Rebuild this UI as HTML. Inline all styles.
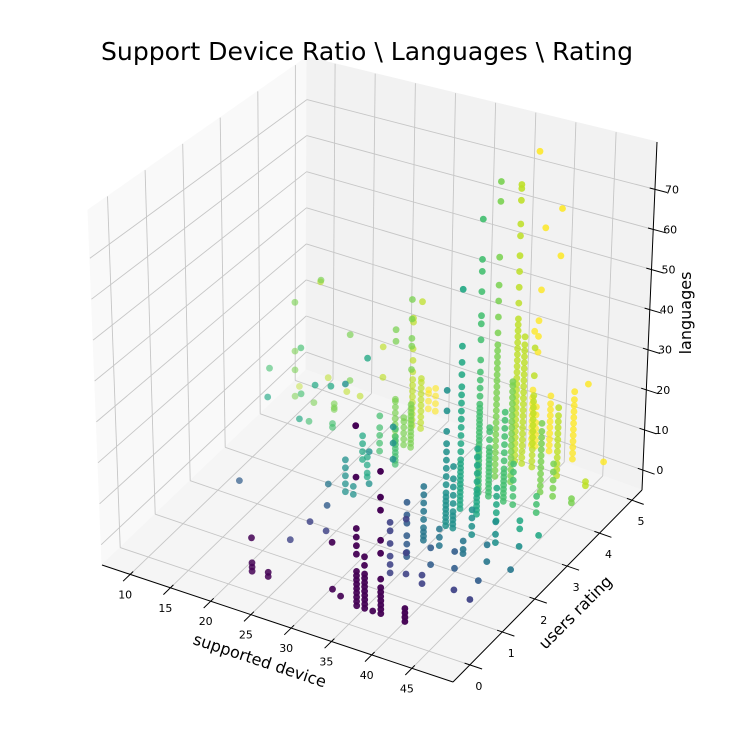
<!DOCTYPE html>
<html><head><meta charset="utf-8"><title>Support Device Ratio \ Languages \ Rating</title>
<style>
html,body{margin:0;padding:0;background:#fff;}
svg{display:block;font-family:"DejaVu Sans","Liberation Sans",sans-serif;}
</style></head>
<body>
<svg id="chart" width="734" height="734" viewBox="0 0 734 734" xmlns="http://www.w3.org/2000/svg">
<rect x="0" y="0" width="734" height="734" fill="#ffffff"/>
<g id="panes"></g>
<g id="grid"></g>
<g id="axes"></g>
<g id="points"></g>
<text x="367" y="60" text-anchor="middle" font-size="25" textLength="532" lengthAdjust="spacingAndGlyphs" fill="#000">Support Device Ratio \ Languages \ Rating</text>
<text x="260" y="666" text-anchor="middle" font-size="16" fill="#000" transform="rotate(18.4 260 660)">supported device</text>
<text x="575" y="618" text-anchor="middle" font-size="16" fill="#000" transform="rotate(-45 575 612)">users rating</text>
<text x="685" y="319" text-anchor="middle" font-size="16" fill="#000" transform="rotate(-90 685 313)">languages</text>
</svg>
<script>
// ---- data: columns of apps sharing (supported devices, rating) with their language counts ----
const colDevices = [
 23,25,36,37,39,42,33,34,38,
 36,38,40,44,46,23.5,26,28,
 36,39,42,26,15,45,
 36,38,41,24,44,47,
 36.7,37.6,40,43,30,27,46,24,25,
 36.4,38.5,41,44,46.4,24.6,12,20,16,18,24,
 36.6,37.9,39.8,41,44,26,14,10,24,18,15,
 36.6,38.6,42.4,44,46.4,25.8,23.8,24.9,14.3,11,18,13.4,16,11,
 37,37.9,39.2,42.4,46.1,23.8,24.9,20,12,9.3,13,15.4,17.1,
 37,37.5,39.3,42.3,46.3,23.7,24.6,40,44,38,37.7
];
const colRatings = [
 0,0,0,0,0,0,0,0,0,
 1,1,1,1,1,1,1,1,
 1.5,1.5,1.5,1.5,1.5,1.5,
 2,2,2,2,2,2,
 2.5,2.5,2.5,2.5,2.5,2.5,2.5,2.5,2.5,
 3,3,3,3,3,3,3,3,3,3,3,
 3.5,3.5,3.5,3.5,3.5,3.5,3.5,3.5,3.5,3.5,3.5,
 4,4,4,4,4,4,4,4,4,4,4,4,4,4,
 4.5,4.5,4.5,4.5,4.5,4.5,4.5,4.5,4.5,4.5,4.5,4.5,4.5,
 5,5,5,5,5,5,5,5,5,5,5
];
const colLanguages = [
 [0,1,2,8],[0,1],
 [0,1,2,3,4,5,6,7,8,12,14,16,18,30,42],
 [0,1,2,3,4,5,6,7,8,10,12],
 [0,1,2,3,4,5,6,8,14,17,24,27,33],
 [0,1,2,3],[2,13],[1],[0],
 [0,2,4,7,10,12],[1,6,14],[0,2],[1],[0],[0],[6],[5],
 [0,1,3,5,8,10,13],[0,4],[1,5],[6],[5],[0],
 [0,1,2,3,5,7,9,11,13],[0,2,4],[0,1,3],[6],[0,4],[0],
 [0,1,2,3,4,5,6,7,8,10,12,14,16,18,20,23,28,33],
 [0,1,2,3,4,6,8,10,12,15],[0,2,4,6],[0,2,5],[12,16,20],[4,12],[1],[0,2,4,6,8,27],[0,2],
 [0,1,2,3,4,5,6,7,8,9,10,11,12,14,16,18,20,22,24,26,28,30,33,36,40,54],
 [0,1,2,3,4,5,6,8,10,12,14,16],[0,2,4,6,8],[0,2],[0],[0,1,3,5,30],[12],[20],[9],[19],[4,6,8,10],
 [0,1,2,3,4,5,6,7,8,9,10,11,12,13,14,15,16,17,18,19,20,21,22,24,26,28,30,33,38,42,44,50,55,58,68],
 [0,1,2,3,4,5,6,7,8,9,10,11,12,14,16,17],
 [0,1,2,3,4,5,6,7,8,10,12,14,16,18,20,22],
 [0,2,4,6,8,10],[0,2,4],[0,1,2,3,4,5,6,7,9],[10,22],[14],[2,4,6,8,11],[4,5],[3.5],
 [0,1.5,3,4.5,6,7.5,9,10.5,12,13.5,15,16.5,18,19.5,21,22.5,24,25.5,27,28.5,30,31.5,33,36,40,44,48,55,69,74],
 [0,1.5,3,4.5,6,7.5,9,10.5,12,13.5,15,16.5,18,19.5,21,22.5,24,25],
 [0,1.5,3,4.5,6,7.5,9,10.5,12,13.5,15,17],
 [0,2,4,6,8],[0,1],
 [0,1,2,3,4,5,6,7,8,9,10,11,20,26,28,33,38],
 [0,1.5,3,4.5,6,7.5,9,10.5,11,26,29],
 [0,1.5,3,4.5,6,7],
 [36],[10,15,28],[12,24],[3],[3,3.5,4.5],[3],
 [0,1.5,3,4.5,6,7.5,9,10.5,12,13.5,15,16.5,18,19.5,21,22.5,24,25.5,27,28.5,30,31.5,33,34.5,36,40,44,48,52,57,60,66,69,70],
 [0,1.5,3,4.5,6,7.5,9,10.5,12,13.5,15,16.5,18,19.5,21,22.5,24,25.5,27,28.5,30,32],
 [0,1.5,3,4.5,6,7.5,9,10.5,12,13.5,15,16.5,18,23,30],
 [0,1.5,3,4.5,6,7.5,9,10.5,12,13.5,15,17],
 [0,1],
 [0,1.5,3,4.5,6,7.5,9,10.5,12,14,17,20,27,28],
 [0,1.5,3,4.5,6,7.5,9,10.5,12,13,33],
 [10,18],[30],[0],[5],[3],[3],
 [0,1.5,3,4.5,6,7.5,9,10.5,12,14,29,75],
 [0,1.5,3,4.5,6,8,10,24,28,32],
 [0,1.5,3,4.5,6,7.5,9,10.5,12,14],
 [0,1.5,3,4.5,6,7.5,9,10.5,12,13.5,15,17],
 [2],[0,2,4,5],[0,2,4,6],[50,62],[20],[56],[40]
];
// ---- axis tick labels ----
const xTicks = [10,15,20,25,30,35,40,45];
const yTicks = [0,1,2,3,4,5];
const zTicks = [0,10,20,30,40,50,60,70];

// ---- axes domains & projection ----
const xDom=[6.5,50.1], yDom=[-0.52,5.31], zDom=[-4.97,81.8];
const CB=[[102,565],[453,682],[642,490],[306,370]];
const CT=[[88,210],[455,297],[657,142],[307,57]];
function bil(c,u,v){return [c[0][0]*(1-u)*(1-v)+c[1][0]*u*(1-v)+c[2][0]*u*v+c[3][0]*(1-u)*v,
                           c[0][1]*(1-u)*(1-v)+c[1][1]*u*(1-v)+c[2][1]*u*v+c[3][1]*(1-u)*v];}
function proj(u,v,w){const b=bil(CB,u,v),t=bil(CT,u,v);return [b[0]+(t[0]-b[0])*w,b[1]+(t[1]-b[1])*w];}
function xs(d){return (d-xDom[0])/(xDom[1]-xDom[0]);}
function ys(r){return (r-yDom[0])/(yDom[1]-yDom[0]);}
function zs(l){return (l-zDom[0])/(zDom[1]-zDom[0]);}
const NS='http://www.w3.org/2000/svg';
function mk(tag,attrs,parent){const e=document.createElementNS(NS,tag);for(const k in attrs)e.setAttribute(k,attrs[k]);parent.appendChild(e);return e;}
function pts(list){return list.map(p=>{const q=proj(p[0],p[1],p[2]);return q[0].toFixed(1)+','+q[1].toFixed(1);}).join(' ');}

const panes=document.getElementById('panes');
let pn;
pn=mk('polygon',{points:pts([[0,0,0],[0,1,0],[0,1,1],[0,0,1]]),fill:'#f9f9f9',stroke:'#f9f9f9'},panes);


pn=mk('polygon',{points:pts([[0,1,0],[1,1,0],[1,1,1],[0,1,1]]),fill:'#f2f2f2',stroke:'#f2f2f2'},panes);


pn=mk('polygon',{points:pts([[0,0,0],[1,0,0],[1,1,0],[0,1,0]]),fill:'#f5f5f5',stroke:'#f5f5f5'},panes);



const grid=document.getElementById('grid');
function gline(a,b,name){const l=mk('polyline',{points:pts([a,b]),stroke:'#c6c6c6','stroke-width':0.9,fill:'none'},grid);
 
 }
xTicks.forEach(t=>{const u=xs(t);gline([u,0,0],[u,1,0],'x-gridline');gline([u,1,0],[u,1,1],'x-gridline');});
yTicks.forEach(t=>{const v=ys(t);gline([0,v,0],[1,v,0],'y-gridline');gline([0,v,0],[0,v,1],'y-gridline');});
zTicks.forEach(t=>{const w=zs(t);gline([0,0,w],[0,1,w],'z-gridline');gline([0,1,w],[1,1,w],'z-gridline');});

const axes=document.getElementById('axes');
function aline(a,b,name){const l=mk('polyline',{points:pts([a,b]),stroke:'#000','stroke-width':1,fill:'none'},axes);
 
 }
function label(x,y,txt,name){const t=mk('text',{x:x.toFixed(1),y:y.toFixed(1),'text-anchor':'middle','font-size':11,fill:'#000'},axes);t.textContent=txt;
 
 }
aline([0,0,0],[1,0,0],'x-axis-line');
aline([1,0,0],[1,1,0],'y-axis-line');
aline([1,1,0],[1,1,1],'z-axis-line');
xTicks.forEach(t=>{const u=xs(t);aline([u,0.015,0],[u,-0.035,0],'x-tick');const p=proj(u,0,0);label(p[0]-5,p[1]+24,String(t),'x-tick-label');});
yTicks.forEach(t=>{const v=ys(t);aline([0.985,v,0],[1.035,v,0],'y-tick');const p=proj(1,v,0);label(p[0]+9,p[1]+25,String(t),'y-tick-label');});
zTicks.forEach(t=>{const w=zs(t);aline([0.985,1,w],[1.035,1,w],'z-tick');const p=proj(1,1,w);label(p[0]+17,p[1]+4,String(t),'z-tick-label');});

const vir=['#440154','#482475','#414487','#355f8d','#2a788e','#21918c','#22a884','#44bf70','#7ad151','#bddf26','#fde725'];
function hex(h){return [parseInt(h.substr(1,2),16),parseInt(h.substr(3,2),16),parseInt(h.substr(5,2),16)];}
function cmap(t){t=Math.max(0,Math.min(1,t));const f=t*10,i=Math.min(9,Math.floor(f)),r=f-i;const a=hex(vir[i]),b=hex(vir[i+1]);
 return a.map((c,k)=>Math.round(c+(b[k]-c)*r));}

const all=[];
colDevices.forEach((d,i)=>{colLanguages[i].forEach(l=>{all.push({d:d,r:colRatings[i],l:l});});});
all.forEach(p=>{const u=xs(p.d),v=ys(p.r),w=zs(p.l);p.depth=0.6*u-0.45*v+0.3*w;});
let dmin=Infinity,dmax=-Infinity;all.forEach(p=>{dmin=Math.min(dmin,p.depth);dmax=Math.max(dmax,p.depth);});
all.sort((a,b)=>a.depth-b.depth);
const pg=document.getElementById('points');
all.forEach(p=>{
 const q=proj(xs(p.d),ys(p.r),zs(p.l));
 const c=cmap(p.r/5);
 const a=0.45+0.55*Math.pow((p.depth-dmin)/(dmax-dmin),0.7);
 const col='rgb('+c.join(',')+')';
 const el=mk('circle',{cx:q[0].toFixed(1),cy:q[1].toFixed(1),r:3.4,fill:col,'fill-opacity':a.toFixed(3)},pg);
 
 
});
</script>
</body></html>
